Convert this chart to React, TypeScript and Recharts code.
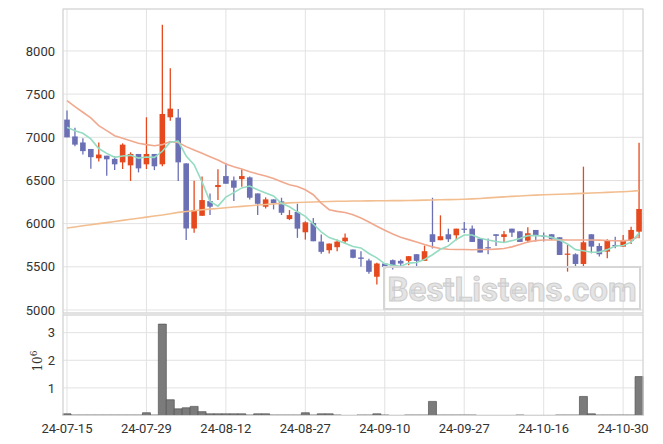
import React from 'react';
import {
  ComposedChart,
  Bar,
  Line,
  XAxis,
  YAxis,
  CartesianGrid,
} from 'recharts';

const dates = [
  '24-07-15', '24-07-16', '24-07-17', '24-07-18', '24-07-19', '24-07-22', '24-07-23', '24-07-24', '24-07-25', '24-07-26',
  '24-07-29', '24-07-30', '24-07-31', '24-08-01', '24-08-02', '24-08-05', '24-08-06', '24-08-07', '24-08-08', '24-08-09',
  '24-08-12', '24-08-13', '24-08-14', '24-08-16', '24-08-19', '24-08-20', '24-08-21', '24-08-22', '24-08-23', '24-08-26',
  '24-08-27', '24-08-28', '24-08-29', '24-08-30', '24-09-02', '24-09-03', '24-09-04', '24-09-05', '24-09-06', '24-09-09',
  '24-09-10', '24-09-11', '24-09-12', '24-09-13', '24-09-19', '24-09-20', '24-09-23', '24-09-24', '24-09-25', '24-09-26',
  '24-09-27', '24-09-30', '24-10-02', '24-10-04', '24-10-07', '24-10-08', '24-10-10', '24-10-11', '24-10-14', '24-10-15',
  '24-10-16', '24-10-17', '24-10-18', '24-10-21', '24-10-22', '24-10-23', '24-10-24', '24-10-25', '24-10-28', '24-10-29',
  '24-10-30', '24-10-31', '24-11-01',
];

const tickDates = ['24-07-15', '24-07-29', '24-08-12', '24-08-27', '24-09-10', '24-09-27', '24-10-16', '24-10-30'];
const priceTicks = [5000, 5500, 6000, 6500, 7000, 7500, 8000];
const volumeTicks = [1, 2, 3];

const open = [
  7205, 7010, 6940, 6865, 6757, 6787, 6750, 6710, 6675, 6807,
  6687, 6807, 6687, 7232, 7228, 6698, 5944, 6091, 6261, 6424,
  6551, 6500, 6516, 6536, 6350, 6196, 6281, 6258, 6053, 6135,
  5900, 6008, 5792, 5692, 5727, 5796, 5700, 5608, 5573, 5385,
  5538, 5577, 5569, 5569, 5646, 5569, 5877, 5808, 5877, 5865,
  5942, 5942, 5827, 5727, 5877, 5846, 5942, 5911, 5803, 5927,
  5861, 5877, 5842, 5641, 5645, 5533, 5877, 5741, 5676, 5753,
  5734, 5803, 5907,
];
const high = [
  7310, 7110, 6990, 6865, 6940, 6787, 6780, 6930, 6826, 6807,
  7232, 6807, 8303, 7800, 7329, 6698, 6497, 6545, 6350, 6630,
  6698, 6545, 6630, 6545, 6350, 6304, 6281, 6300, 6157, 6231,
  6027, 6065, 5873, 5769, 5815, 5885, 5700, 5681, 5592, 5546,
  5538, 5585, 5585, 5623, 5646, 5746, 6300, 6096, 5942, 5942,
  6019, 5977, 5827, 5827, 5877, 5915, 5942, 5911, 5958, 5927,
  5896, 5877, 5842, 5753, 5656, 6660, 5877, 5772, 5819, 5849,
  5869, 5965, 6938,
];
const low = [
  7000, 6895, 6800, 6635, 6720, 6555, 6620, 6633, 6495, 6594,
  6633, 6620, 6664, 7193, 6493, 5810, 5894, 6091, 6100, 6273,
  6462, 6261, 6428, 6280, 6100, 6176, 6165, 6100, 6041, 5835,
  5815, 5796, 5650, 5654, 5681, 5769, 5600, 5500, 5419, 5296,
  5481, 5469, 5508, 5519, 5508, 5569, 5712, 5808, 5788, 5808,
  5892, 5788, 5665, 5646, 5742, 5788, 5846, 5788, 5780, 5792,
  5792, 5811, 5637, 5444, 5494, 5502, 5656, 5618, 5599, 5714,
  5734, 5765, 5830,
];
const close = [
  7000, 6915, 6840, 6770, 6800, 6745, 6687, 6915, 6807, 6640,
  6807, 6664, 7270, 7332, 6710, 5944, 6157, 6273, 6196, 6447,
  6462, 6416, 6551, 6300, 6230, 6281, 6238, 6126, 6099, 5942,
  6015, 5796, 5673, 5769, 5792, 5838, 5604, 5592, 5442, 5538,
  5500, 5515, 5538, 5623, 5569, 5681, 5788, 5854, 5819, 5942,
  5935, 5788, 5665, 5720, 5858, 5877, 5896, 5788, 5888, 5857,
  5850, 5822, 5637, 5653, 5533, 5784, 5734, 5645, 5799, 5741,
  5811, 5927, 6170,
];

// moving averages
const ma5 = [
  7116, 7077, 7046, 6981, 6870, 6814, 6768, 6783, 6791, 6759,
  6771, 6767, 6838, 6943, 6957, 6784, 6683, 6483, 6256, 6203,
  6307, 6359, 6414, 6435, 6392, 6356, 6320, 6235, 6195, 6137,
  6084, 5996, 5905, 5839, 5809, 5774, 5735, 5719, 5654, 5603,
  5535, 5517, 5507, 5543, 5549, 5585, 5640, 5703, 5742, 5817,
  5868, 5868, 5830, 5810, 5793, 5782, 5803, 5828, 5861, 5861,
  5856, 5841, 5811, 5764, 5699, 5686, 5668, 5670, 5699, 5741,
  5746, 5785, 5890,
];
const ma20 = [
  7425, 7356, 7290, 7224, 7135, 7077, 7019, 6988, 6961, 6930,
  6915, 6903, 6915, 6950, 6940, 6892, 6853, 6814, 6776, 6737,
  6690, 6660, 6633, 6602, 6575, 6551, 6524, 6486, 6450, 6431,
  6392, 6335, 6238, 6161, 6142, 6130, 6104, 6065, 6019, 5969,
  5923, 5881, 5842, 5815, 5788, 5758, 5731, 5712, 5704, 5700,
  5700, 5698, 5700, 5700, 5705, 5712, 5731, 5758, 5788, 5803,
  5811, 5811, 5812, 5810, 5810, 5811, 5810, 5809, 5805, 5802,
  5800, 5810, 5850,
];
const ma60 = [
  5950, 5962, 5975, 5988, 6000, 6012, 6025, 6038, 6050, 6062,
  6075, 6088, 6100, 6115, 6130, 6140, 6150, 6160, 6168, 6176,
  6184, 6192, 6200, 6208, 6215, 6222, 6229, 6235, 6240, 6245,
  6248, 6251, 6254, 6257, 6259, 6260, 6262, 6263, 6264, 6265,
  6265, 6266, 6267, 6268, 6270, 6272, 6274, 6276, 6278, 6280,
  6283, 6287, 6292, 6298, 6304, 6310, 6316, 6321, 6326, 6330,
  6334, 6338, 6341, 6344, 6348, 6351, 6354, 6358, 6362, 6366,
  6370, 6375, 6382,
];

// volume in millions
const volume = [
  0.06, 0.02, 0.02, 0.02, 0.02, 0.02, 0.02, 0.02, 0.02, 0.02,
  0.1, 0.02, 3.31, 0.57, 0.24, 0.28, 0.33, 0.14, 0.06, 0.06,
  0.06, 0.06, 0.06, 0.02, 0.06, 0.06, 0.02, 0.02, 0.02, 0.02,
  0.1, 0.02, 0.06, 0.06, 0.02, 0.005, 0.005, 0.02, 0.02, 0.06,
  0.02, 0.005, 0.005, 0.02, 0.02, 0.02, 0.51, 0.02, 0.02, 0.02,
  0.02, 0.02, 0.005, 0.005, 0.005, 0.005, 0.005, 0.02, 0.005, 0.005,
  0.005, 0.005, 0.02, 0.02, 0.02, 0.69, 0.06, 0.02, 0.02, 0.02,
  0.02, 0.02, 1.41,
];

const UP = '#e5491d';
const DOWN = '#6b70b5';
const GRID = '#e2e2e2';
const BORDER = '#d4d4d4';
const FONT = 'Roboto, sans-serif';

const rows = dates.map((date, i) => ({
  date,
  open: open[i],
  high: high[i],
  low: low[i],
  close: close[i],
  ma5: ma5[i],
  ma20: ma20[i],
  ma60: ma60[i],
  vol: volume[i],
}));

const Candle = (props: any) => {
  const { x, y, width, height, payload } = props;
  if (!payload) return null;
  const { open: o, close: c, high: h, low: l } = payload;
  const top = Math.min(y, y + height);
  const bot = Math.max(y, y + height);
  const k = h === l ? 0 : (bot - top) / (h - l);
  const yOf = (v: number) => top + (h - v) * k;
  const color = c >= o ? UP : DOWN;
  const cx = x + width / 2;
  const bTop = yOf(Math.max(o, c));
  const bBot = yOf(Math.min(o, c));
  return (
    <g>
      <line x1={cx} x2={cx} y1={top} y2={bot} stroke={color} strokeWidth={1.3} />
      <rect x={cx - 2.8} y={bTop} width={5.6} height={Math.max(bBot - bTop, 1.2)} fill={color} />
    </g>
  );
};

const tickStyle = { fill: '#333', fontSize: 13, fontFamily: FONT };

export default function App() {
  return (
    <div style={{ position: 'absolute', left: 0, top: 0, width: 663, height: 444, background: '#fff' }}>
      {/* price pane */}
      <div style={{ position: 'absolute', left: 0, top: 0 }}>
        <ComposedChart width={663} height={322} data={rows} margin={{ top: 9, right: 20, left: 0, bottom: 9 }}>
          <CartesianGrid stroke={GRID} />
          <XAxis dataKey="date" hide ticks={tickDates} interval={0} />
          <YAxis
            width={63}
            domain={[4965, 8486]}
            ticks={priceTicks}
            interval={0}
            allowDataOverflow
            axisLine={false}
            tickLine={false}
            tick={tickStyle}
          />
          <Line dataKey="ma60" stroke="#f2bd8f" strokeWidth={1.6} dot={false} isAnimationActive={false} />
          <Line dataKey="ma20" stroke="#f0a98e" strokeWidth={1.6} dot={false} isAnimationActive={false} />
          <Line dataKey="ma5" stroke="#95dcc2" strokeWidth={1.6} dot={false} isAnimationActive={false} />
          <Bar
            dataKey={(d: any) => [d.low, d.high]}
            barSize={6}
            shape={Candle}
            isAnimationActive={false}
          />
        </ComposedChart>
      </div>

      {/* volume pane */}
      <div style={{ position: 'absolute', left: 0, top: 313 }}>
        <ComposedChart width={663} height={131} data={rows} margin={{ top: 2, right: 20, left: 0, bottom: 0 }} barCategoryGap={0}>
          <CartesianGrid stroke={GRID} />
          <XAxis
            dataKey="date"
            ticks={tickDates}
            interval={0}
            height={28.5}
            axisLine={false}
            tickLine={false}
            tick={tickStyle}
          />
          <YAxis
            width={63}
            domain={[0, 3.64]}
            ticks={volumeTicks}
            interval={0}
            allowDataOverflow
            axisLine={false}
            tickLine={false}
            tick={tickStyle}
          />
          <Bar dataKey="vol" fill="#7b7b7b" stroke="#555" strokeWidth={0.7} isAnimationActive={false} />
        </ComposedChart>
      </div>

      {/* frame lines */}
      <svg width={663} height={444} style={{ position: 'absolute', left: 0, top: 0, pointerEvents: 'none' }}>
        <rect x={63} y={9} width={580} height={406.5} fill="none" stroke={BORDER} strokeWidth={1} />
        <line x1={63} x2={643} y1={313} y2={313} stroke={BORDER} />
        <line x1={63} x2={643} y1={315} y2={315} stroke={BORDER} />
        <text
          x={42}
          y={361}
          transform="rotate(-90 42 361)"
          textAnchor="middle"
          fontFamily="'DejaVu Serif', serif"
          fontSize={12}
          fill="#333"
        >
          10<tspan dy={-5} fontSize={9}>6</tspan>
        </text>
        <rect x={384} y={267} width={256} height={42} fill="none" stroke="#d6d6d6" strokeWidth={2} />
        <text
          x={512}
          y={301}
          textAnchor="middle"
          fontFamily={FONT}
          fontWeight="bold"
          fontSize={33}
          fill="#e4e4e4"
          stroke="#cdcdcd"
          strokeWidth={1}
        >
          BestListens.com
        </text>
      </svg>
    </div>
  );
}
